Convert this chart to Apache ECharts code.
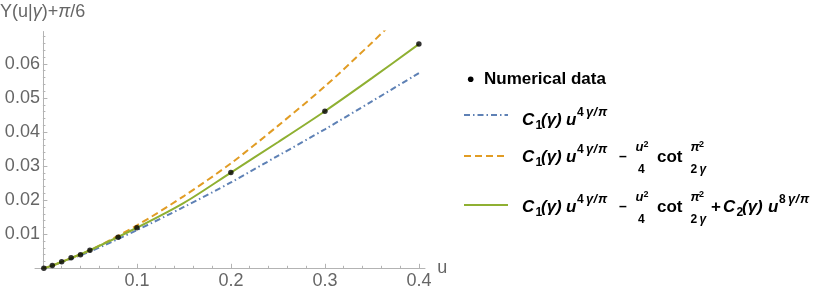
<!DOCTYPE html>
<html><head><meta charset="utf-8">
<script src="https://cdn.jsdelivr.net/npm/echarts@6/dist/echarts.min.js"></script>
<style>html,body{margin:0;padding:0;background:#fff}#c{width:830px;height:296px}</style>
</head><body><div id="c"></div>
<script>
// ---- data ----
const xTickValues = [0.1, 0.2, 0.3, 0.4];
const yTickValues = [0.01, 0.02, 0.03, 0.04, 0.05, 0.06];
const xMinorTicks = [0.02,0.04,0.06,0.08,0.12,0.14,0.16,0.18,0.22,0.24,0.26,0.28,0.32,0.34,0.36,0.38];
const yMinorTicks = [0.002,0.004,0.006,0.008,0.012,0.014,0.016,0.018,0.022,0.024,0.026,0.028,0.032,0.034,0.036,0.038,0.042,0.044,0.046,0.048,0.052,0.054,0.056,0.058,0.062,0.064,0.066,0.068];

const numU = [0.001, 0.01, 0.02, 0.03, 0.04, 0.05, 0.08, 0.1, 0.2, 0.3, 0.4];
const numY = [0.00005, 0.0008, 0.0019, 0.0031, 0.0040, 0.0053, 0.0091, 0.0119, 0.0281, 0.0461, 0.0658];

const curveU  = [0, 0.01, 0.02, 0.05, 0.1, 0.15, 0.2, 0.25, 0.3, 0.35, 0.4];
const blueY   = [0, 0.0008, 0.0018, 0.0049, 0.0112, 0.0180, 0.0252, 0.0330, 0.0408, 0.0490, 0.0573];
const greenY  = [0, 0.0008, 0.0019, 0.0053, 0.0119, 0.0192, 0.0281, 0.0370, 0.0461, 0.0558, 0.0658];
const orangeU = [0, 0.01, 0.02, 0.05, 0.1, 0.15, 0.2, 0.25, 0.3, 0.35, 0.37];
const orangeY = [0, 0.0008, 0.0019, 0.0053, 0.0126, 0.0212, 0.0308, 0.0418, 0.0534, 0.0662, 0.0716];

// ---- styling ----
const FF = '"Liberation Sans", Arial, sans-serif';
const AX = '#b3b3b3';
const LBL = '#666666';
const BLUE = '#5E81B5', ORANGE = '#E19C24', GREEN = '#8FB032';
const XMIN = -0.0084, XMAX = 0.4065, YMIN = 0, YMAX = 0.0695;
const Y_SHIFT = -7.9; // y axis sits at u = 0, 7.9px right of the grid edge

const pair = (xs, ys) => xs.map((x, i) => [x, ys[i]]);

function T(x, base, text, size, italic, extra) {
  return Object.assign({
    type: 'text', x: x, y: base - 0.35 * size, z: 100,
    style: { text: text, font: (italic ? 'italic ' : '') + 'bold ' + size + 'px ' + FF,
             fill: '#000', align: 'left', verticalAlign: 'middle' }
  }, extra || {});
}
function mainTerm(B, x0, sub) {
  return [
    T(x0, B, 'C', 17, true),
    T(x0 + 13.5, B + 3.5, sub, 12, false),
    T(x0 + 19, B, '(γ)', 17, true),
  ];
}
function powTerm(B, x0, p) {
  return [
    T(x0, B, 'u', 17, true),
    T(x0 + 11, B - 9, p, 12, false),
    T(x0 + 20, B - 9, 'γ', 13, true),
    T(x0 + 27.5, B - 9, '/', 13, true),
    T(x0 + 32, B - 9, 'π', 13, true),
  ];
}
function fracTerms(B) {
  return [
    T(619, B - 1, '–', 14, false),
    T(635.5, B - 11, 'u', 13, true),
    T(643.5, B - 15.5, '2', 9, false),
    T(638, B + 11, '4', 12, false),
    T(657, B, 'cot', 17, false),
    T(690.5, B - 11, 'π', 13, true),
    T(699, B - 15.5, '2', 9, false),
    T(690.5, B + 11, '2', 12, false),
    T(699.5, B + 11, 'γ', 12, true),
  ];
}
const rows = [126, 163, 213];
let legendEls = [];
legendEls.push({ type: 'circle', shape: { cx: 470.7, cy: 79.3, r: 2.8 }, style: { fill: '#000' }, z: 100 });
legendEls.push(T(484, 85, 'Numerical data', 17, false));
const swY = [115, 156, 205];
const swDash = [[6, 3, 1.5, 3], [7, 4], null];
const swCol = [BLUE, ORANGE, GREEN];
for (let i = 0; i < 3; i++) {
  legendEls.push({ type: 'line', shape: { x1: 464, y1: swY[i], x2: 508, y2: swY[i] },
    style: { stroke: swCol[i], lineWidth: 2, lineDash: swDash[i] }, z: 100 });
  legendEls = legendEls.concat(mainTerm(rows[i], 522, '1'), powTerm(rows[i], 566, '4'));
  if (i >= 1) legendEls = legendEls.concat(fracTerms(rows[i]));
}
legendEls.push(T(711, rows[2], '+', 17, false));
legendEls = legendEls.concat(mainTerm(rows[2], 723, '2'), powTerm(rows[2], 768, '8'));

// axis title
legendEls.push({
  type: 'text', x: 0, y: 12, z: 100,
  style: { text: 'Y(u|{i|γ})+{i|π}/6', font: '18px ' + FF, fill: LBL, align: 'left', verticalAlign: 'middle',
    rich: { i: { fontStyle: 'italic', fontSize: 18, fontFamily: FF, fill: LBL, color: LBL } } }
});

const chart = echarts.init(document.getElementById('c'), null, { renderer: 'canvas' });
const common = { type: 'value', min: XMIN, max: XMAX, splitLine: { show: false } };
chart.setOption({
  animation: false,
  backgroundColor: '#ffffff',
  grid: { left: 35, right: 405, top: 31.5, bottom: 27.7, containLabel: false, outerBoundsMode: 'none' },
  xAxis: [
    Object.assign({}, common, {
      position: 'bottom',
      axisLine: { show: true, onZero: false, lineStyle: { color: AX, width: 1 } },
      axisTick: { show: true, inside: true, length: 4.5, customValues: xTickValues, lineStyle: { color: AX } },
      axisLabel: { show: true, customValues: xTickValues, formatter: v => v.toFixed(1),
                   color: LBL, fontSize: 18, fontFamily: FF, margin: 4 },
      name: 'u', nameLocation: 'end', nameGap: 9,
      nameTextStyle: { color: LBL, fontSize: 18, fontFamily: FF }
    }),
    Object.assign({}, common, {
      position: 'bottom',
      axisLine: { show: false, onZero: false },
      axisTick: { show: true, inside: true, length: 2.5, customValues: xMinorTicks, lineStyle: { color: AX } },
      axisLabel: { show: false }
    })
  ],
  yAxis: [
    { type: 'value', min: YMIN, max: YMAX, position: 'left', offset: Y_SHIFT, splitLine: { show: false },
      axisLine: { show: true, onZero: false, lineStyle: { color: AX, width: 1 } },
      axisTick: { show: true, inside: true, length: 4.5, customValues: yTickValues, lineStyle: { color: AX } },
      axisLabel: { show: true, customValues: yTickValues, formatter: v => v.toFixed(2),
                   color: LBL, fontSize: 18, fontFamily: FF, margin: 3 } },
    { type: 'value', min: YMIN, max: YMAX, position: 'left', offset: Y_SHIFT, splitLine: { show: false },
      axisLine: { show: false, onZero: false },
      axisTick: { show: true, inside: true, length: 2.5, customValues: yMinorTicks, lineStyle: { color: AX } },
      axisLabel: { show: false } }
  ],
  series: [
    { name: 'blue', type: 'line', xAxisIndex: 0, yAxisIndex: 0, data: pair(curveU, blueY),
      showSymbol: false, smooth: 0.3, clip: true,
      lineStyle: { color: BLUE, width: 2, type: [6, 3, 1.5, 3] }, z: 3 },
    { name: 'orange', type: 'line', xAxisIndex: 0, yAxisIndex: 0, data: pair(orangeU, orangeY),
      showSymbol: false, smooth: 0.3, clip: true,
      lineStyle: { color: ORANGE, width: 2, type: [7, 4] }, z: 3 },
    { name: 'green', type: 'line', xAxisIndex: 0, yAxisIndex: 0, data: pair(curveU, greenY),
      showSymbol: false, smooth: 0.3, clip: true,
      lineStyle: { color: GREEN, width: 2 }, z: 4 },
    { name: 'Numerical data', type: 'scatter', xAxisIndex: 0, yAxisIndex: 0, data: pair(numU, numY),
      symbolSize: 5.5, itemStyle: { color: '#000' }, z: 10 }
  ],
  graphic: legendEls
});
</script></body></html>
